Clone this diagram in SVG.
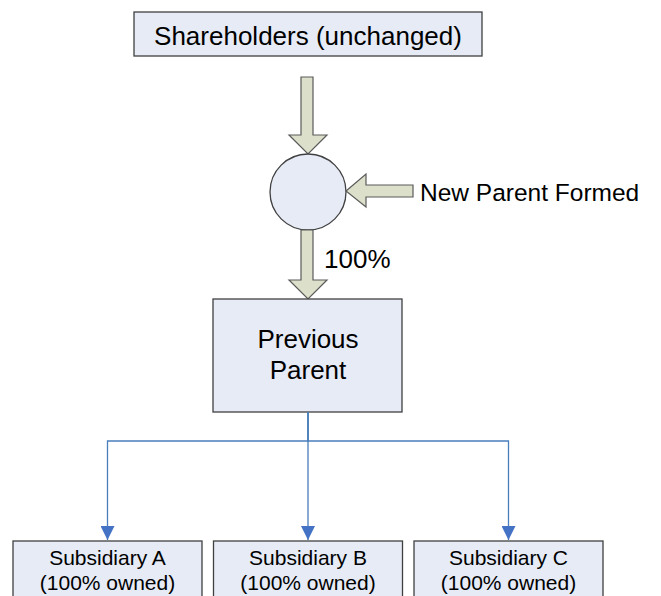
<svg xmlns="http://www.w3.org/2000/svg" width="661" height="596" viewBox="0 0 661 596">
<defs>
<style>
.box{fill:#e6ebf6;stroke:#404040;stroke-width:1.3}
.blk{fill:#dcdfca;stroke:#5a5a5a;stroke-width:1.2;stroke-linejoin:miter}
.t{font-family:"Liberation Sans",Arial,sans-serif;fill:#000}
.big{font-size:26px}
.mid{font-size:24.5px}
.sm{font-size:21px}
.conn{fill:none;stroke:#4a7ebb;stroke-width:1.3}
</style>
<marker id="ah" markerWidth="14" markerHeight="14" viewBox="0 0 14 14" refX="14" refY="7" orient="auto" markerUnits="userSpaceOnUse">
<path d="M0,0 L14,7 L0,14 Z" fill="#4472c4"/>
</marker>
</defs>
<rect width="661" height="596" fill="#fff"/>
<g id="shareholders">
<rect class="box" x="134" y="12" width="348" height="44"/>
<text class="t big" x="308" y="45" text-anchor="middle">Shareholders (unchanged)</text>
</g>
<g id="arrow-down-1">
<polygon class="blk" points="301,77 313,77 313,135 327,135 308,154 289,135 301,135"/>
</g>
<g id="new-parent">
<circle class="box" cx="308" cy="192" r="38"/>
</g>
<g id="arrow-left">
<polygon class="blk" points="413,185 366,185 366,174 346,191 366,207 366,197 413,197"/>
<text class="t mid" x="420" y="201">New Parent Formed</text>
</g>
<g id="arrow-down-2">
<polygon class="blk" points="301,230 313,230 313,280 327,280 308,299 289,280 301,280"/>
<text class="t big" x="324" y="268">100%</text>
</g>
<g id="previous-parent">
<rect class="box" x="213" y="299" width="189" height="113"/>
<text class="t big" x="308" y="348" text-anchor="middle">Previous</text>
<text class="t big" x="308" y="379" text-anchor="middle">Parent</text>
</g>
<g id="connectors">
<path class="conn" d="M308,412 V441 H107.5 V540" marker-end="url(#ah)"/>
<path class="conn" d="M308,412 V540" marker-end="url(#ah)"/>
<path class="conn" d="M308,412 V441 H508.5 V540" marker-end="url(#ah)"/>
</g>
<g id="subsidiary-a">
<rect class="box" x="13" y="541" width="189" height="70"/>
<text class="t sm" x="107.5" y="565" text-anchor="middle">Subsidiary A</text>
<text class="t sm" x="107.5" y="590" text-anchor="middle">(100% owned)</text>
</g>
<g id="subsidiary-b">
<rect class="box" x="213.5" y="541" width="189" height="70"/>
<text class="t sm" x="308" y="565" text-anchor="middle">Subsidiary B</text>
<text class="t sm" x="308" y="590" text-anchor="middle">(100% owned)</text>
</g>
<g id="subsidiary-c">
<rect class="box" x="414" y="541" width="189" height="70"/>
<text class="t sm" x="508.5" y="565" text-anchor="middle">Subsidiary C</text>
<text class="t sm" x="508.5" y="590" text-anchor="middle">(100% owned)</text>
</g>
</svg>
